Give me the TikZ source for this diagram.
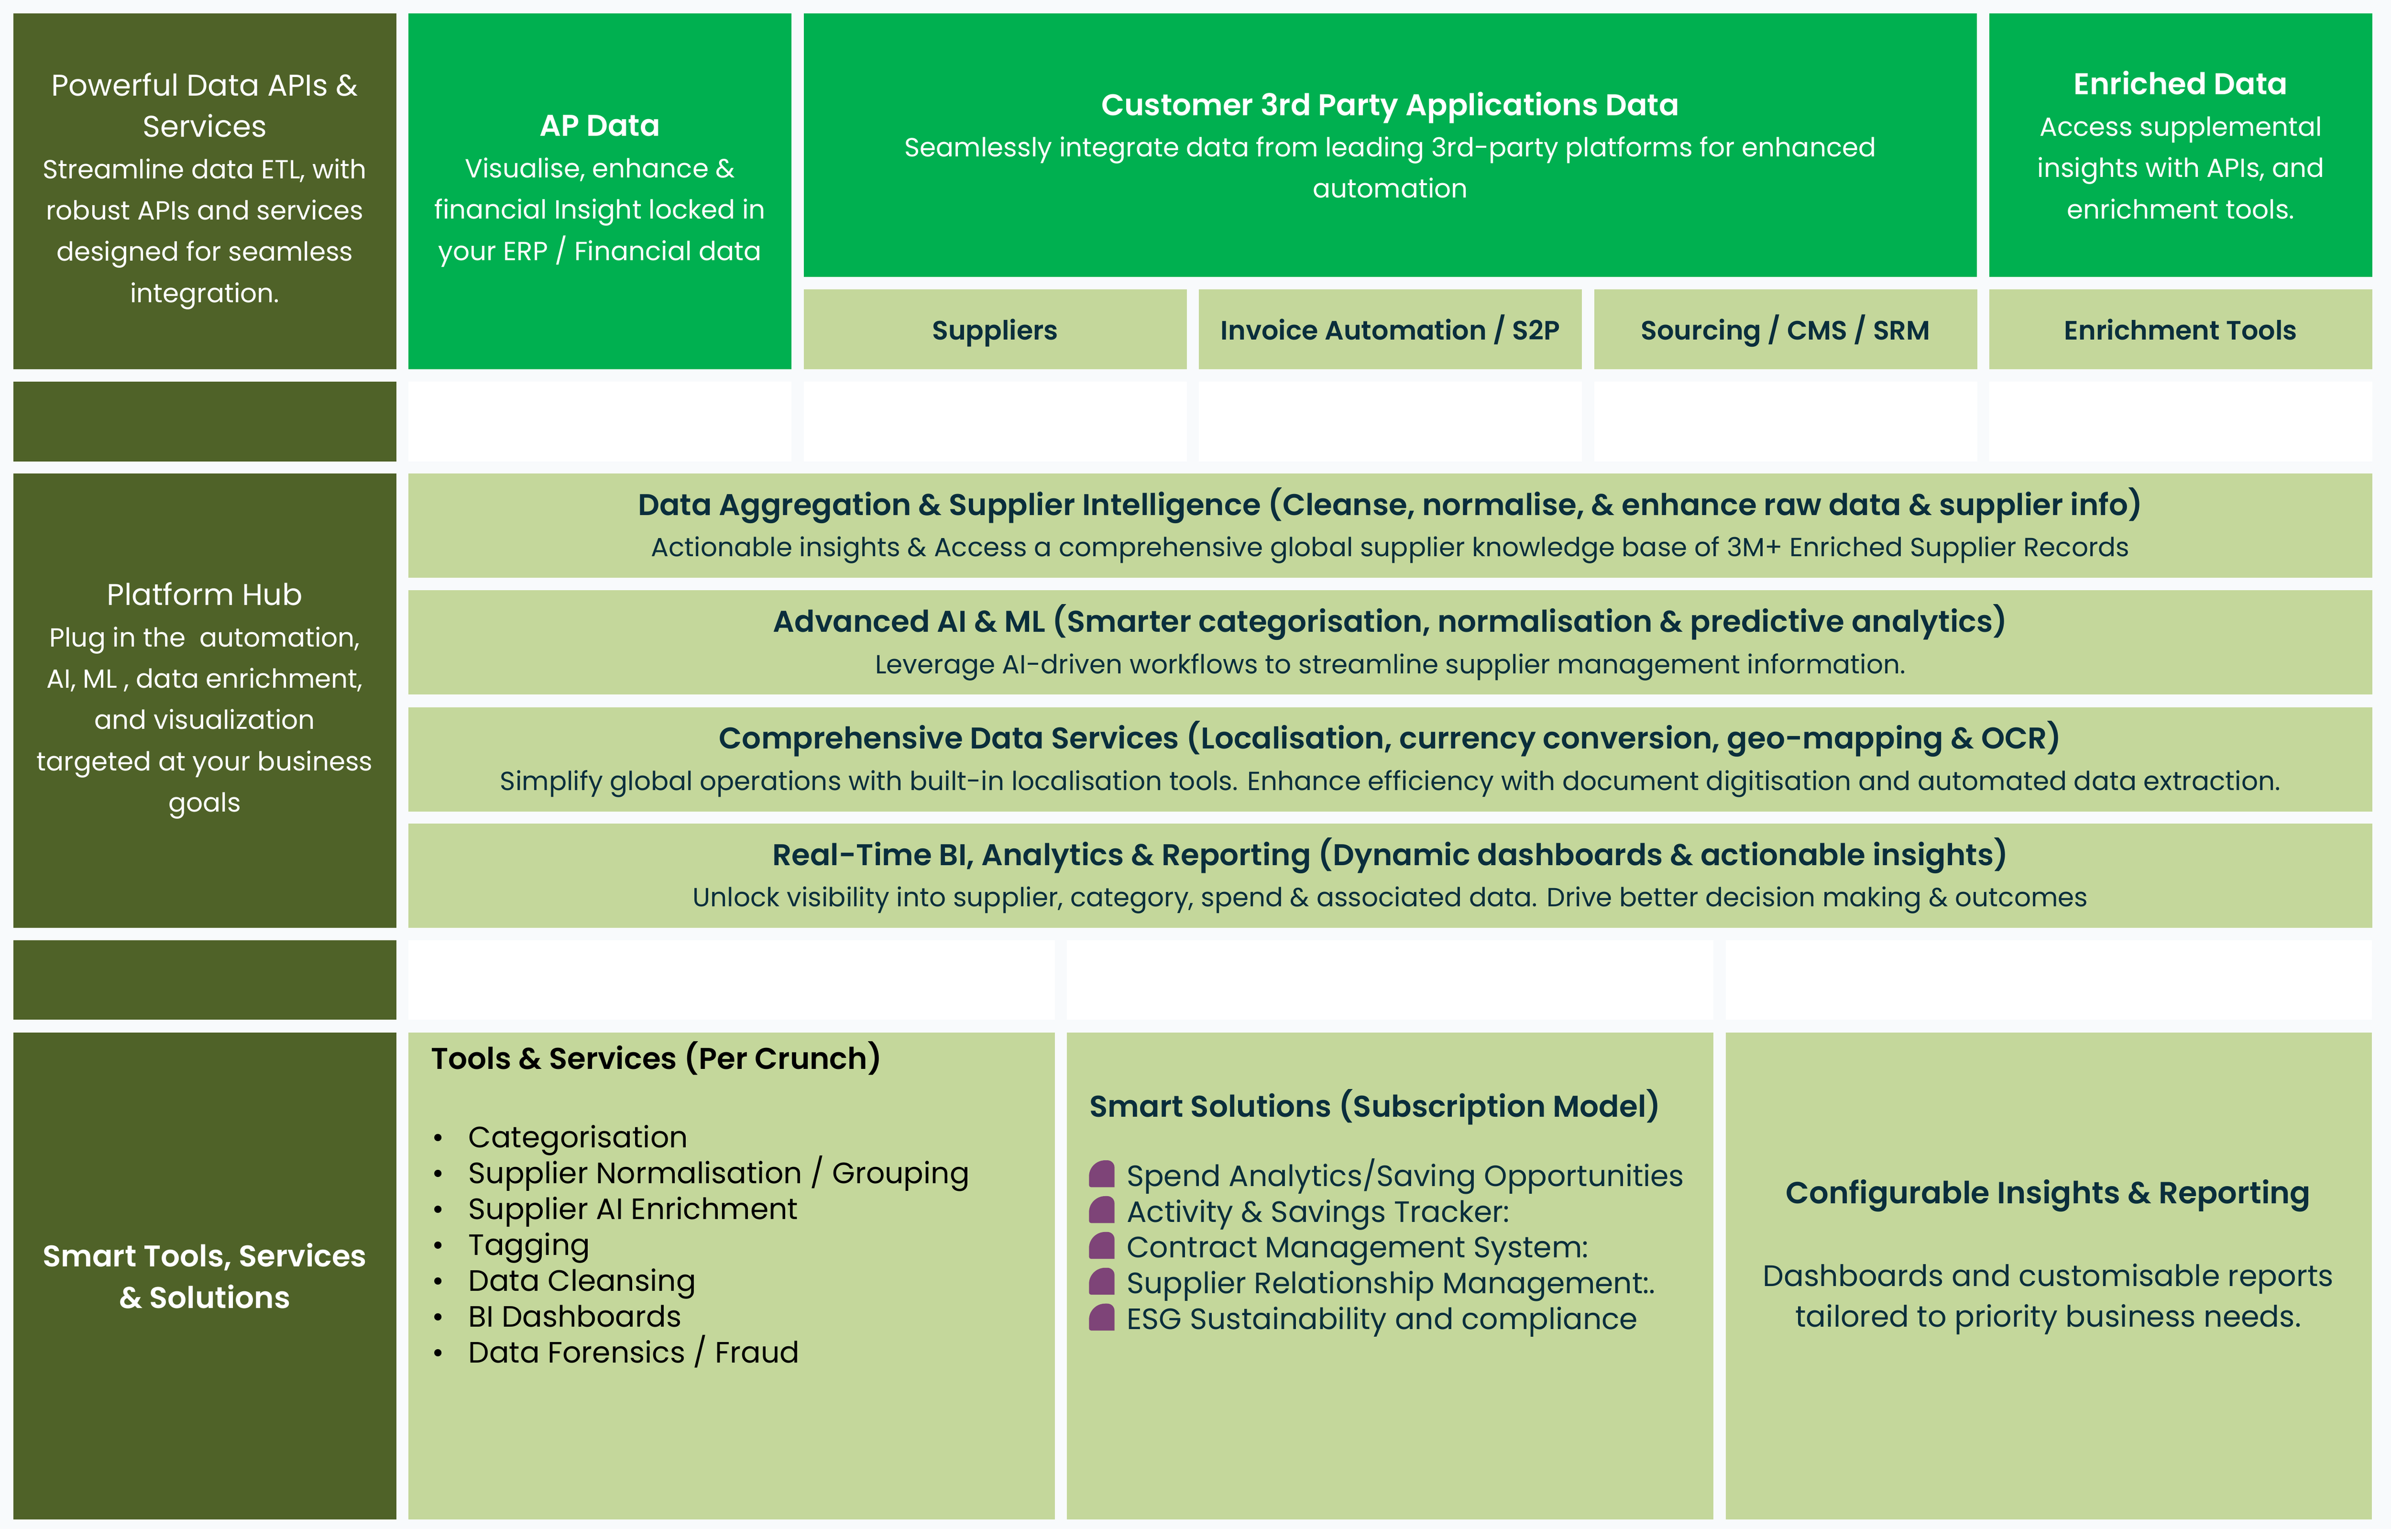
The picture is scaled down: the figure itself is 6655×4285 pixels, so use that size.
\documentclass[tikz,border=0pt]{standalone}
\usepackage{fontspec}
\setmainfont{Poppins}[BoldFont={Poppins SemiBold}]
\usepackage{tikz}
\usetikzlibrary{positioning}

\definecolor{olive}{HTML}{4F6228}
\definecolor{brgreen}{HTML}{00B050}
\definecolor{paleolive}{HTML}{C4D79B}
\definecolor{pagebg}{HTML}{F8FAFC}
\definecolor{navy}{HTML}{0A2E3C}
\definecolor{plum}{HTML}{7E4478}

\newcommand{\hdsize}{\fontsize{8.35}{11.5}\selectfont}
\newcommand{\bdsize}{\fontsize{7.3}{11.5}\selectfont}
\newcommand{\lstsize}{\fontsize{8.2}{10}\selectfont}

\begin{document}
\begin{tikzpicture}
        [
            x=0.1pt, y=-0.1pt,
            blk/.style={rectangle, inner sep=0pt, anchor=north west, align=center, minimum width=106.6pt, font=\bdsize},
            dark/.style={blk, fill=olive, text=white},
            bright/.style={blk, fill=brgreen, text=white},
            pale/.style={blk, fill=paleolive, text=navy},
            blank/.style={blk, fill=white},
            tab/.style={pale, minimum height=22.2pt, font=\fontsize{7.4}{10}\selectfont\bfseries, text height=7.5pt, text depth=1.7pt},
            bar/.style={pale, minimum width=546.6pt, minimum height=29pt},
            wide/.style={minimum width=179.9pt},
            label/.style={inner sep=0pt, anchor=base west},
        ]
            \useasboundingbox (0,0) rectangle (6655,4285);
            \fill[white] (0,0) rectangle (6655,4285);
            \fill[pagebg] (0,0) rectangle (6655,4255);

            % top row
            \node[dark, minimum height=99pt] (apis) at (35,35) {{\hdsize Powerful Data APIs \&}\\{\hdsize Services}\\Streamline data ETL, with\\robust APIs and services\\designed for seamless\\integration.};
            \node[bright, minimum height=99pt] (apdata) at (1135,35) {{\hdsize\bfseries AP Data}\\Visualise, enhance \&\\financial Insight locked in\\your ERP / Financial data};
            \node[bright, minimum width=326.6pt, minimum height=73.3pt] (custdata) at (2235,35) {{\hdsize\bfseries Customer 3rd Party Applications Data}\\Seamlessly integrate data from leading 3rd-party platforms for enhanced\\automation};
            \node[bright, minimum height=73.3pt] (enriched) at (5535,35) {{\hdsize\bfseries Enriched Data}\\Access supplemental\\insights with APIs, and\\enrichment tools.};
            \node[tab] (suppliers) at (2235,803) {Suppliers};
            \node[tab] (invoice) at (3335,803) {Invoice Automation / S2P};
            \node[tab] (sourcing) at (4435,803) {Sourcing / CMS / SRM};
            \node[tab] (enrtools) at (5535,803) {Enrichment Tools};

            % spacer row
            \node[dark, minimum height=22.2pt] (gapA) at (35,1060) {};
            \foreach \c [count=\i] in {1135,2235,3335,4435,5535}
                \node[blank, minimum height=22.2pt] (slot\i) at (\c,1060) {};

            % platform hub
            \node[dark, minimum height=126.4pt] (hub) at (35,1316) {{\hdsize Platform Hub}\\Plug in the\ \ automation,\\AI, ML , data enrichment,\\and visualization\\targeted at your business\\goals};
            \node[bar] (aggr) at (1135,1316) {{\hdsize\bfseries Data Aggregation \& Supplier Intelligence (Cleanse, normalise, \& enhance raw data \& supplier info)}\\Actionable insights \& Access a comprehensive global supplier knowledge base of 3M+ Enriched Supplier Records};
            \node[bar] (aiml) at (1135,1641) {{\hdsize\bfseries Advanced AI \& ML (Smarter categorisation, normalisation \& predictive analytics)}\\Leverage AI-driven workflows to streamline supplier management information.};
            \node[bar] (services) at (1135,1966) {{\hdsize\bfseries Comprehensive Data Services (Localisation, currency conversion, geo-mapping \& OCR)}\\Simplify global operations with built-in localisation tools. Enhance efficiency with document digitisation and automated data extraction.};
            \node[bar] (realtime) at (1135,2290) {{\hdsize\bfseries Real-Time BI, Analytics \& Reporting (Dynamic dashboards \& actionable insights)}\\Unlock visibility into supplier, category, spend \& associated data. Drive better decision making \& outcomes};

            % spacer row
            \node[dark, minimum height=22.2pt] (gapB) at (35,2614) {};
            \node[blank, wide, minimum height=22.2pt] (slotA) at (1135,2614) {};
            \node[blank, wide, minimum height=22.2pt] (slotB) at (2968,2614) {};
            \node[blank, wide, minimum height=22.2pt] (slotC) at (4801,2614) {};

            % bottom row
            \node[dark, minimum height=135.5pt, font=\hdsize\bfseries] (smart) at (35,2871) {Smart Tools, Services\\\& Solutions};
            \node[pale, wide, minimum height=135.5pt] (tools) at (1135,2871) {};
            \node[pale, wide, minimum height=135.5pt] (subs) at (2968,2871) {};
            \node[pale, wide, minimum height=135.5pt] (config) at (4801,2871) {};

            \node[label, font=\hdsize\bfseries, text=black] (toolsT) at (1198,2976) {Tools \& Services (Per Crunch)};
            \foreach \t [count=\i from 0, evaluate=\i as \b using 3193+100*\i] in {Categorisation, Supplier Normalisation / Grouping, Supplier AI Enrichment, Tagging, Data Cleansing, BI Dashboards, Data Forensics / Fraud} {
                \node[label, font=\lstsize, text=black] (dot\i) at (1200,\b) {\textbullet};
                \node[label, font=\lstsize, text=black] (tool\i) at (1302,\b) {\t};
            }

            \node[label, font=\hdsize\bfseries, text=navy] (subsT) at (3031,3108) {Smart Solutions (Subscription Model)};
            \foreach \t [count=\i from 0, evaluate=\i as \b using 3301+99.7*\i] in {Spend Analytics/Saving Opportunities, Activity \& Savings Tracker:, Contract Management System:, Supplier Relationship Management:., ESG Sustainability and compliance} {
                \fill[plum] (3102,\b+3) [rounded corners=0.6pt] -- (3031,\b+3) [rounded corners=4.5pt] -- (3031,\b-72) [rounded corners=2pt] -- (3102,\b-72) [sharp corners] -- cycle;
                \node[label, font=\lstsize, text=navy] (sol\i) at (3134,\b) {\t};
            }

            \node[inner sep=0pt, anchor=base, font=\fontsize{8.5}{11.5}\selectfont\bfseries, text=navy] (configT) at (5701,3350) {Configurable Insights \& Reporting};
            \node[inner sep=0pt, anchor=base, align=center, font=\fontsize{8.25}{11.4}\selectfont, text=navy] (configB) at (5701,3693) {Dashboards and customisable reports\\tailored to priority business needs.};
        \end{tikzpicture}
\end{document}
